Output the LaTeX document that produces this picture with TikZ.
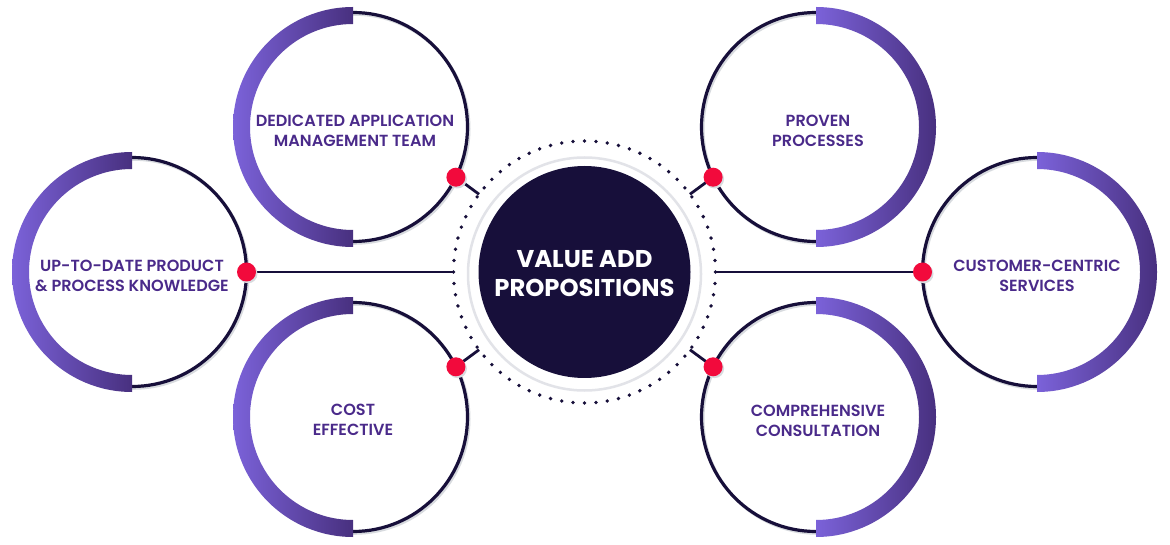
\documentclass[tikz,border=0pt]{standalone}
\usepackage{fontspec}
\setmainfont{Poppins}[BoldFont={* SemiBold}]
\newfontfamily\popbold{Poppins}[UprightFont={* Bold}]
\usetikzlibrary{calc}
\definecolor{navy}{HTML}{170F3A}
\definecolor{reddot}{HTML}{F20A3C}
\definecolor{ptext}{HTML}{4A2A8A}
\definecolor{glight}{HTML}{7B62D9}
\definecolor{gdark}{HTML}{48307F}
\definecolor{shad}{HTML}{D8DBDF}
\definecolor{coreshad}{HTML}{E2E3E8}
\tikzset{
  thinring/.style={draw=navy, line width=3.2pt},
  shadring/.style={draw=shad, line width=3pt},
  conn/.style={draw=navy, line width=2.8pt},
  reddotnode/.style={circle, fill=reddot, minimum size=19pt, inner sep=0pt},
  label/.style={text=ptext, font=\bfseries\fontsize{16.1}{20}\selectfont, align=center},
  centertext/.style={text=white, font=\popbold\fontsize{24.3}{29}\selectfont, align=center},
}
\begin{document}
\begin{tikzpicture}[x=1pt,y=1pt]
\useasboundingbox (0,0) rectangle (1170,544);
\fill[white] (0,0) rectangle (1170,544);

% centres
\coordinate (C) at (584.5,272);
\coordinate (cA) at (353,417);  % dedicated
\coordinate (cB) at (132,272);  % up-to-date
\coordinate (cD) at (353,127);  % cost
\coordinate (cE) at (816,417);  % proven
\coordinate (cF) at (1037,272); % customer
\coordinate (cG) at (816,127);  % comprehensive

% outer rings: shadow + thin line
\foreach \c in {cA,cB,cD,cE,cF,cG}{
  \draw[shadring] ($(\c)+(1.5,-1.8)$) circle[radius=114.5pt];
  \draw[thinring] (\c) circle[radius=114.5pt];
}
% thick gradient arcs, left side
\foreach \c in {cA,cB,cD}{
  \shade[left color=glight, right color=gdark]
    ($(\c)+(0,120)$) arc[start angle=90, end angle=270, radius=120pt]
    -- ++(0,17) arc[start angle=270, end angle=90, radius=103pt] -- cycle;
}
% thick gradient arcs, right side
\foreach \c in {cE,cF,cG}{
  \shade[left color=glight, right color=gdark]
    ($(\c)+(0,120)$) arc[start angle=90, end angle=-90, radius=120pt]
    -- ++(0,17) arc[start angle=-90, end angle=90, radius=103pt] -- cycle;
}

% centre circle
\draw[coreshad, line width=2.5pt] ($(C)+(0,-2)$) circle[radius=116.5pt];
\node[circle, fill=navy, minimum size=212pt, inner sep=0pt] (core) at (C) {};
\node[centertext] (ctext) at ($(C)+(0,-2)$) {VALUE ADD\\PROPOSITIONS};

% dotted ring
\foreach \a in {0,5,...,355}{
  \fill[navy] ($(C)+(\a:131pt)$) circle[radius=1.9pt];
}

% red dots on outer rings
\coordinate (pA) at ($(cA)+(-26:114.5pt)$);
\coordinate (pB) at ($(cB)+(0:114.5pt)$);
\coordinate (pD) at ($(cD)+(26:114.5pt)$);
\coordinate (pE) at ($(cE)+(206:114.5pt)$);
\coordinate (pF) at ($(cF)+(180:114.5pt)$);
\coordinate (pG) at ($(cG)+(154:114.5pt)$);

% connector ends on dotted ring
\foreach \p in {pA,pB,pD,pE,pF,pG}{
  \coordinate (e\p) at ($(C)!131pt!(\p)$);
  \draw[conn] (\p) -- (e\p);
}
\foreach \p in {pA,pB,pD,pE,pF,pG}{
  \fill[shad] ($(\p)+(1.5,-1.8)$) circle[radius=9.5pt];
  \node[reddotnode] (d\p) at (\p) {};
}

% labels
\node[label] (tA) at ($(cA)+(2,-3.5)$) {DEDICATED APPLICATION\\MANAGEMENT TEAM};
\node[label] (tB) at ($(cB)+(0,-3.5)$) {UP-TO-DATE PRODUCT\\\& PROCESS KNOWLEDGE};
\node[label] (tD) at ($(cD)+(0,-2.5)$) {COST\\EFFECTIVE};
\node[label] (tE) at ($(cE)+(2,-3.5)$) {PROVEN\\PROCESSES};
\node[label] (tF) at ($(cF)+(0,-3.5)$) {CUSTOMER-CENTRIC\\SERVICES};
\node[label] (tG) at ($(cG)+(2,-3.5)$) {COMPREHENSIVE\\CONSULTATION};
\end{tikzpicture}
\end{document}
